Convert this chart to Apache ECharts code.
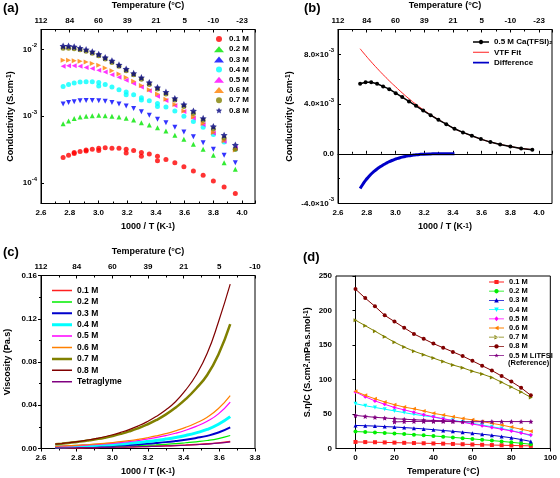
<!DOCTYPE html>
<html><head><meta charset="utf-8">
<script src="https://cdn.jsdelivr.net/npm/echarts@6/dist/echarts.min.js"></script>
<style>html,body{margin:0;padding:0;background:#fff}#c{width:560px;height:478px}</style>
</head><body><div id="c"></div>
<script>
// ---------- DATA ----------
// Panel (a): 1000/T positions (K^-1)
var xA = [2.754,2.792,2.831,2.872,2.914,2.957,3.002,3.047,3.094,3.143,3.193,3.245,3.299,3.354,3.411,3.470,3.532,3.595,3.661,3.729,3.800,3.875,3.953];
// conductivity, units of 1e-3 S/cm
var a08 = [11.3,11.3,11.0,10.5,10.0,9.3,8.5,7.6,6.8,5.9,5.1,4.4,3.8,3.2,2.7,2.3,1.85,1.5,1.2,0.93,0.70,0.52,0.37];
var a07 = [10.5,10.5,10.3,9.9,9.4,8.8,8.1,7.2,6.4,5.6,4.8,4.2,3.6,3.0,2.55,2.15,1.75,1.4,1.1,0.87,0.64,0.47,0.32];
var a06 = [6.9,6.9,6.8,6.7,6.5,6.2,5.8,5.3,4.8,4.3,3.8,3.35,2.9,2.5,2.15,1.8,1.5,1.2,0.97,0.78,0.57,0.43,0.31];
var a05 = [5.6,5.7,5.7,5.6,5.4,5.2,4.9,4.6,4.2,3.85,3.45,3.1,2.75,2.4,2.0,1.72,1.45,1.18,0.94,0.75,0.56,0.42,0.33];
var a04 = [2.8,3.0,3.15,3.25,3.3,3.3,3.2,3.0,2.75,2.5,2.3,2.1,1.9,1.7,1.55,1.38,1.2,1.0,0.83,0.68,0.53,0.41,0.32];
var a03 = [1.52,1.6,1.65,1.7,1.72,1.72,1.7,1.67,1.6,1.52,1.42,1.3,1.17,1.03,0.9,0.8,0.68,0.58,0.49,0.40,0.32,0.26,0.20];
var a02 = [0.77,0.85,0.92,0.97,1.0,1.02,1.03,1.02,1.0,0.97,0.93,0.88,0.80,0.74,0.67,0.60,0.52,0.45,0.38,0.32,0.26,0.20,0.16];
var a01 = [0.24,0.26,0.275,0.295,0.31,0.32,0.33,0.335,0.33,0.33,0.32,0.305,0.285,0.27,0.25,0.225,0.20,0.175,0.15,0.13,0.107,0.087,0.069];
// second (repeat) measurements, same x positions, null = none
var a04b = [null,null,null,null,null,null,2.85,null,null,null,2.1,null,1.75,null,1.4,null,null,null,null,null,null,null,null];
var a01b = [null,null,0.285,null,0.30,null,0.305,null,null,null,0.28,null,0.25,null,0.215,null,null,null,null,null,null,null,null];

// Panel (b): 0.5 M data, VTF fit, difference (units 1e-3 S/cm)
var bData = [5.63,5.76,5.76,5.63,5.42,5.20,4.88,4.56,4.21,3.86,3.48,3.11,2.73,2.38,2.01,1.72,1.45,1.18,0.94,0.75,0.59,0.43,0.32];
var bFit  = [8.45,7.92,7.40,6.88,6.37,5.87,5.38,4.90,4.43,3.98,3.55,3.14,2.76,2.39,2.02,1.72,1.45,1.18,0.95,0.76,0.59,0.44,0.33];
var xDiff = [2.754,2.773,2.792,2.812,2.831,2.851,2.872,2.893,2.914,2.935,2.957,2.980,3.002,3.025,3.047,3.070,3.094,3.118,3.143,3.168,3.193,3.245,3.299,3.354,3.411];
var bDiff = [-2.80,-2.45,-2.14,-1.87,-1.63,-1.42,-1.22,-1.05,-0.90,-0.76,-0.63,-0.52,-0.42,-0.34,-0.27,-0.21,-0.16,-0.12,-0.08,-0.05,-0.03,-0.01,0,0,0];

// Panel (c): viscosity (Pa.s) vs 1000/T
var xC = [2.680,2.716,2.754,2.792,2.831,2.872,2.914,2.957,3.002,3.047,3.094,3.143,3.193,3.245,3.299,3.354,3.411,3.470,3.532,3.595,3.661];
var c01 = [0.0006,0.0006,0.0007,0.0008,0.0008,0.0009,0.0010,0.0011,0.0012,0.0014,0.0015,0.0017,0.0019,0.0022,0.0025,0.0028,0.0032,0.0037,0.0043,0.0052,0.0065];
var c02 = [0.0007,0.0008,0.0009,0.0010,0.0011,0.0012,0.0014,0.0016,0.0018,0.0020,0.0023,0.0026,0.0030,0.0034,0.0039,0.0045,0.0053,0.0062,0.0074,0.0092,0.0120];
var c03 = [0.0010,0.0011,0.0013,0.0014,0.0016,0.0018,0.0020,0.0023,0.0026,0.0029,0.0033,0.0038,0.0044,0.0051,0.0059,0.0069,0.0081,0.0097,0.0117,0.0148,0.0196];
var c04 = [0.0014,0.0016,0.0018,0.0020,0.0023,0.0026,0.0029,0.0033,0.0037,0.0042,0.0048,0.0055,0.0064,0.0074,0.0087,0.0102,0.0121,0.0145,0.0176,0.0224,0.0295];
var c05 = [0.0018,0.0021,0.0023,0.0026,0.0029,0.0033,0.0037,0.0042,0.0048,0.0055,0.0064,0.0074,0.0086,0.0101,0.0119,0.0141,0.0169,0.0205,0.0252,0.0320,0.0430];
var c06 = [0.0020,0.0023,0.0026,0.0029,0.0033,0.0037,0.0042,0.0048,0.0055,0.0063,0.0073,0.0085,0.0099,0.0116,0.0137,0.0163,0.0195,0.0236,0.0290,0.0370,0.0490];
var c07 = [0.0040,0.0045,0.0051,0.0058,0.0066,0.0076,0.0087,0.0100,0.0116,0.0135,0.0158,0.0186,0.0220,0.0262,0.0313,0.0377,0.0456,0.0555,0.0680,0.0870,0.1150];
var c08 = [0.0040,0.0046,0.0053,0.0061,0.0070,0.0081,0.0094,0.0109,0.0127,0.0149,0.0175,0.0207,0.0246,0.0295,0.0356,0.0432,0.0540,0.0680,0.0880,0.1170,0.1520];
var cTg = [0.0005,0.0006,0.0006,0.0007,0.0008,0.0008,0.0009,0.0010,0.0011,0.0013,0.0014,0.0016,0.0018,0.0020,0.0023,0.0026,0.0030,0.0035,0.0041,0.0049,0.0062];

// Panel (d): S.eta/C vs temperature (°C)
var xD = [0,5,10,15,20,25,30,35,40,45,50,55,60,65,70,75,80,85,90];
var d01 = [9.5,9.3,9.1,8.8,8.5,8.2,7.9,7.6,7.3,7.0,6.6,6.2,5.8,5.4,5.0,4.7,4.4,4.1,3.8];
var d02 = [24.5,24,23.3,22.6,21.8,21.0,20.1,19.2,18.2,17.2,16.1,15.0,13.9,12.7,11.5,10.3,9.0,7.6,6.2];
var d03 = [33.4,33,32.5,31.8,31.1,30.3,29.4,28.4,27.3,26.1,24.9,23.6,22.2,20.7,19.1,17.4,15.5,13.0,10.2];
var d04 = [65,62,59.5,57,54.5,52,49.5,47.5,45.5,43,41,38.5,36.5,34,31.5,29,26,22.5,18.5];
var d05 = [82,75,69,64,59.5,56,52.5,49,46,43,40.5,38,35.5,33,30.5,28,25.5,22.5,19.5];
var d06 = [83,77,72,67.5,63.5,60,57.5,54.5,51,48.5,46,43.5,41.5,39,36.5,34,31,28,25];
var d07 = [186,178,170,162,154,147,141,136,131,126,121,117,112,108,103,96,89,82,74];
var d08 = [231,218,206,193,184,175,166,159,152,146,140,134,127,120,113,105,97,88,77];
var xLi1 = [0,5,10,15,20,25,30,35,40,45,50];
var dLi1 = [48,46.5,45.2,44.2,43.2,42.4,41.7,41.1,40.6,40.2,39.8];
var xLi2 = [20,25,30,35,40,45,50,55,60,65,70,75,80,85,90];
var dLi2 = [38.5,39,39.2,39.3,39.3,39.2,39,38.8,38.8,38.9,39,39,39,39,39];

// Tick labels
var topTempAB = ['112','84','60','39','21','5','-10','-23'];
var topTempC  = ['112','84','60','39','21','5','-10'];
var names = ['0.1 M','0.2 M','0.3 M','0.4 M','0.5 M','0.6 M','0.7 M','0.8 M'];

// ---------- STYLE ----------
var F = '"Liberation Sans", Arial, sans-serif';
var colors = ['#ff0000','#00e600','#0000ff','#00ffff','#ff00ff','#ff8000','#808000','#000080'];
var colorsC = ['#ff2020','#00ee00','#0000cc','#00ffff','#ff00ff','#ff8000','#808000','#800000','#800080'];
var star = 'path://M0,-10L2.9,-4L9.5,-3.1L4.7,1.5L5.9,8.1L0,5L-5.9,8.1L-4.7,1.5L-9.5,-3.1L-2.9,-4Z';
var tri = 'triangle';
var symA = ['circle',tri,tri,'circle',tri,tri,'circle',star];
var rotA = [0,0,180,0,90,-90,0,0];

// legend icon shapes (line + marker) in a W x H box
function lineIcon(W, H, t){
  var y0 = (H - t)/2, y1 = (H + t)/2;
  return 'M0,0L0,0ZM' + W + ',' + H + 'L' + W + ',' + H + 'Z' +
         'M0,' + y0 + 'L' + W + ',' + y0 + 'L' + W + ',' + y1 + 'L0,' + y1 + 'Z';
}
function markIcon(W, H, t, kind){
  var cx = W/2, cy = H/2, r = H*0.42, m = '';
  if (kind === 'rect') m = 'M'+(cx-r)+','+(cy-r)+'L'+(cx+r)+','+(cy-r)+'L'+(cx+r)+','+(cy+r)+'L'+(cx-r)+','+(cy+r)+'Z';
  else if (kind === 'up') m = 'M'+cx+','+(cy-r*1.15)+'L'+(cx+r*1.1)+','+(cy+r)+'L'+(cx-r*1.1)+','+(cy+r)+'Z';
  else if (kind === 'down') m = 'M'+(cx-r*1.1)+','+(cy-r)+'L'+(cx+r*1.1)+','+(cy-r)+'L'+cx+','+(cy+r*1.15)+'Z';
  else if (kind === 'left') m = 'M'+(cx-r*1.15)+','+cy+'L'+(cx+r)+','+(cy-r*1.1)+'L'+(cx+r)+','+(cy+r*1.1)+'Z';
  else if (kind === 'right') m = 'M'+(cx+r*1.15)+','+cy+'L'+(cx-r)+','+(cy-r*1.1)+'L'+(cx-r)+','+(cy+r*1.1)+'Z';
  else if (kind === 'diamond') m = 'M'+cx+','+(cy-r*1.2)+'L'+(cx+r)+','+cy+'L'+cx+','+(cy+r*1.2)+'L'+(cx-r)+','+cy+'Z';
  else if (kind === 'circle' || kind === 'star') {
    var n = kind === 'star' ? 10 : 12;
    for (var i=0;i<n;i++){
      var ang = -Math.PI/2 + i*2*Math.PI/n;
      var rr = (kind === 'star' && i%2===1) ? r*0.45 : r*1.05;
      m += (i===0?'M':'L') + (cx + rr*Math.cos(ang)).toFixed(2) + ',' + (cy + rr*Math.sin(ang)).toFixed(2);
    }
    m += 'Z';
  }
  return 'path://' + lineIcon(W, H, t) + m;
}

var lbl = {color:'#000',fontSize:8,fontWeight:'bold',fontFamily:F};
var rich = {
  b:{fontSize:8,fontWeight:'bold',fontFamily:F,color:'#000',lineHeight:14},
  s:{fontSize:6,fontWeight:'bold',fontFamily:F,color:'#000',verticalAlign:'top'}
};
var nameRich = {
  n:{fontSize:9,fontWeight:'bold',fontFamily:F,color:'#000',lineHeight:14},
  s:{fontSize:6.5,fontWeight:'bold',fontFamily:F,color:'#000',verticalAlign:'top'}
};
var nts = {fontSize:9,fontWeight:'bold',fontFamily:F,color:'#000',rich:nameRich};
var aline = {lineStyle:{color:'#000',width:1}};

function zip(xs, ys, k){ var out=[]; for(var i=0;i<xs.length;i++){ if(ys[i]!==null) out.push([xs[i], ys[i]*(k||1)]); } return out; }
function topFmt(arr){ return function(v){ var i=Math.round((v-2.6)/0.2); return (Math.abs(v-(2.6+0.2*i))<1e-6 && arr[i]!==undefined)? arr[i] : ''; }; }

var grids = [
  {left:41, top:29.5, width:214, height:174},
  {left:338, top:29.5, width:214, height:174},
  {left:41, top:275.5, width:214, height:173},
  {left:336, top:276, width:216, height:172.5}
];
grids.forEach(function(g){ g.show=true; g.borderColor='#000'; g.borderWidth=1; g.backgroundColor='transparent'; });

function bottomX(gi, max, inside, showMax){
  return {type:'value', gridIndex:gi, position:'bottom', min:2.6, max:max, interval:0.2,
    axisLine:aline, axisTick:{inside:inside, length:3, lineStyle:{color:'#000'}},
    minorTick:{show:true, splitNumber:2, length:2, lineStyle:{color:'#000'}},
    splitLine:{show:false},
    axisLabel:Object.assign({showMaxLabel:showMax, margin:5, formatter:function(v){return v.toFixed(1);}}, lbl),
    name:'1000 / T (K{s|-1})', nameLocation:'middle', nameGap:19, nameTextStyle:nts};
}
function topX(gi, max, arr, showMax){
  return {type:'value', gridIndex:gi, position:'top', min:2.6, max:max, interval:0.2,
    axisLine:aline, axisTick:{inside:true, length:3, lineStyle:{color:'#000'}},
    minorTick:{show:true, splitNumber:2, length:2, lineStyle:{color:'#000'}},
    splitLine:{show:false},
    axisLabel:Object.assign({showMaxLabel:showMax, margin:5, formatter:topFmt(arr)}, lbl),
    name:'Temperature (°C)', nameLocation:'middle', nameGap:19, nameTextStyle:nts};
}

var xAxes = [
  bottomX(0, 4.09, true, false), topX(0, 4.09, topTempAB, false),
  bottomX(1, 4.09, true, false), topX(1, 4.09, topTempAB, false),
  bottomX(2, 3.8, false, true), topX(2, 3.8, topTempC, true),
  {type:'value', gridIndex:3, position:'bottom', min:-10, max:100, splitNumber:5,
    axisLine:aline, axisTick:{inside:false, length:3, lineStyle:{color:'#000'}},
    splitLine:{show:false},
    axisLabel:Object.assign({showMinLabel:false, margin:5}, lbl),
    name:'Temperature (°C)', nameLocation:'middle', nameGap:19, nameTextStyle:nts}
];

var yAxes = [
  {type:'log', gridIndex:0, min:4.9e-5, max:0.02, logBase:10,
    axisLine:aline, axisTick:{inside:true, length:3, lineStyle:{color:'#000'}}, splitLine:{show:false},
    axisLabel:{showMinLabel:false, showMaxLabel:false, margin:4, rich:rich,
      formatter:function(v){ return '{b|10}{s|' + Math.round(Math.log10(v)) + '}'; }},
    name:'Conductivity (S.cm{s|-1})', nameLocation:'middle', nameGap:26, nameTextStyle:nts},
  {type:'value', gridIndex:1, min:-0.004, max:0.010, interval:0.004,
    axisLine:aline, axisTick:{inside:true, length:3, lineStyle:{color:'#000'}}, splitLine:{show:false},
    minorTick:{show:true, splitNumber:2, length:2, lineStyle:{color:'#000'}},
    axisLabel:{showMaxLabel:false, margin:4, rich:rich,
      formatter:function(v){ if(Math.abs(v)<1e-9) return '{b|0.0}'; return '{b|' + (v*1000).toFixed(1) + '×10}{s|-3}'; }},
    name:'Conductivity (S.cm{s|-1})', nameLocation:'middle', nameGap:44, nameTextStyle:nts},
  {type:'value', gridIndex:2, min:0, max:0.16, interval:0.04,
    axisLine:aline, axisTick:{inside:false, length:3, lineStyle:{color:'#000'}}, splitLine:{show:false},
    minorTick:{show:true, splitNumber:2, length:2, lineStyle:{color:'#000'}},
    axisLabel:Object.assign({margin:4, formatter:function(v){return v.toFixed(2);}}, lbl),
    name:'Viscosity (Pa.s)', nameLocation:'middle', nameGap:29, nameTextStyle:nts},
  {type:'value', gridIndex:3, min:0, max:250, interval:50,
    axisLine:aline, axisTick:{inside:false, length:3, lineStyle:{color:'#000'}}, splitLine:{show:false},
    axisLabel:Object.assign({margin:4}, lbl),
    name:'S.η/C (S.cm{s|2}.mPa.s.mol{s|-1})', nameLocation:'middle', nameGap:24, nameTextStyle:nts}
];

var series = [];
// (a)
var aVals = [a01,a02,a03,a04,a05,a06,a07,a08];
var aNames = [];
for (var i=0;i<8;i++){
  var dat = zip(xA, aVals[i], 1e-3);
  if (i===0) dat = dat.concat(zip(xA, a01b, 1e-3));
  if (i===3) dat = dat.concat(zip(xA, a04b, 1e-3));
  var nm = 'a|' + names[i]; aNames.push(nm);
  series.push({type:'scatter', name:nm, xAxisIndex:0, yAxisIndex:0, data:dat,
    symbol:symA[i], symbolRotate:rotA[i], symbolSize:(i===7?7:5), itemStyle:{color:colors[i]}});
}
// (b)
series.push({type:'line', name:'b|Difference', xAxisIndex:2, yAxisIndex:1, data:zip(xDiff,bDiff,1e-3),
  symbol:'none', smooth:true, lineStyle:{color:'#0000c8', width:3}, itemStyle:{color:'#0000c8'}, z:2});
series.push({type:'line', name:'b|VTF Fit', xAxisIndex:2, yAxisIndex:1, data:zip(xA,bFit,1e-3),
  symbol:'none', smooth:true, lineStyle:{color:'#ff2020', width:1}, itemStyle:{color:'#ff2020'}, z:3});
series.push({type:'line', name:'b|0.5 M Ca(TFSI)₂', xAxisIndex:2, yAxisIndex:1, data:zip(xA,bData,1e-3),
  symbol:'circle', symbolSize:4, lineStyle:{color:'#000', width:1.5}, itemStyle:{color:'#000'}, z:4,
  markLine:{silent:true, symbol:'none', label:{show:false}, lineStyle:{color:'#000', width:1, type:'solid'}, data:[{yAxis:0}]}});
// (c)
var cVals = [c01,c02,c03,c04,c05,c06,c07,c08,cTg];
var cNames = names.concat(['Tetraglyme']);
var cWidth = [1.5,1.2,2,3,1.2,1.2,2.5,1.2,1.2];
var cLeg = [];
for (var j=0;j<9;j++){
  var nmc = 'c|' + cNames[j];
  cLeg.push({name:nmc, icon:'path://' + lineIcon(20, 6, Math.max(1.5, cWidth[j]))});
  series.push({type:'line', name:nmc, xAxisIndex:4, yAxisIndex:2, data:zip(xC,cVals[j]), symbol:'none', smooth:true,
    lineStyle:{color:colorsC[j], width:cWidth[j]}, itemStyle:{color:colorsC[j]}});
}
// (d)
var dVals = [d01,d02,d03,d04,d05,d06,d07,d08];
var symD = ['rect','circle','triangle','triangle','diamond','triangle','triangle','circle'];
var rotD = [0,0,0,180,0,90,-90,0];
var legD = ['rect','circle','up','down','diamond','left','right','circle'];
var dLeg = [];
for (var k=0;k<8;k++){
  var nmd = 'd|' + names[k];
  dLeg.push({name:nmd, icon:markIcon(15, 5, 0.8, legD[k])});
  series.push({type:'line', name:nmd, xAxisIndex:6, yAxisIndex:3, data:zip(xD,dVals[k]),
    symbol:symD[k], symbolRotate:rotD[k], symbolSize:4, lineStyle:{color:colorsC[k], width:1}, itemStyle:{color:colorsC[k]}});
}
series.push({type:'line', name:'d|0.5 M LiTFSI', xAxisIndex:6, yAxisIndex:3, data:zip(xLi1,dLi1),
  symbol:star, symbolSize:5, lineStyle:{color:'#800080', width:1}, itemStyle:{color:'#800080'}});
series.push({type:'line', name:'d|0.5 M LiTFSI', xAxisIndex:6, yAxisIndex:3, data:zip(xLi2,dLi2),
  symbol:star, symbolSize:5, lineStyle:{color:'#800080', width:1}, itemStyle:{color:'#800080'}});
dLeg.push({name:'d|0.5 M LiTFSI', icon:markIcon(15, 5, 0.8, 'star')});

function strip(n){ return n.split('|')[1]; }
var legTxt = function(fs, lh){ return {color:'#000', fontSize:fs, fontWeight:'bold', fontFamily:F, lineHeight:lh}; };

var option = {
  animation:false,
  backgroundColor:'#fff',
  textStyle:{fontFamily:F},
  title:[
    {text:'(a)', left:3, top:2, textStyle:{fontSize:13, fontWeight:'bold', fontFamily:F, color:'#000'}, padding:0},
    {text:'(b)', left:304, top:2, textStyle:{fontSize:13, fontWeight:'bold', fontFamily:F, color:'#000'}, padding:0},
    {text:'(c)', left:3, top:246, textStyle:{fontSize:13, fontWeight:'bold', fontFamily:F, color:'#000'}, padding:0},
    {text:'(d)', left:303, top:251, textStyle:{fontSize:13, fontWeight:'bold', fontFamily:F, color:'#000'}, padding:0}
  ],
  grid:grids, xAxis:xAxes, yAxis:yAxes, series:series,
  legend:[
    {data:aNames, left:214, top:34, orient:'vertical', padding:0, itemWidth:10, itemHeight:6, itemGap:0.2,
      formatter:strip, textStyle:legTxt(8,10)},
    {data:[{name:'b|0.5 M Ca(TFSI)₂', icon:markIcon(16,5,1.5,'circle')},
           {name:'b|VTF Fit', icon:'path://' + lineIcon(16,5,1)},
           {name:'b|Difference', icon:'path://' + lineIcon(16,5,1.6)}],
      left:473, top:37, orient:'vertical', padding:0,
      itemWidth:16, itemHeight:5, itemGap:0.3, formatter:strip, textStyle:legTxt(8,10)},
    {data:cLeg, left:52, top:285, orient:'vertical', padding:0, itemWidth:20, itemHeight:6, itemGap:0.4,
      formatter:strip, textStyle:legTxt(8.5,11)},
    {data:dLeg, left:489, top:277.5, orient:'vertical', padding:0, itemWidth:15, itemHeight:5, itemGap:0.2,
      formatter:strip, textStyle:legTxt(7.5,9)}
  ],
  graphic:[{type:'text', left:508, top:359, style:{text:'(Reference)', fill:'#000', font:'bold 7.5px ' + F}}]
};
var chart = echarts.init(document.getElementById('c'), null, {renderer:'canvas'});
chart.setOption(option);
</script></body></html>
